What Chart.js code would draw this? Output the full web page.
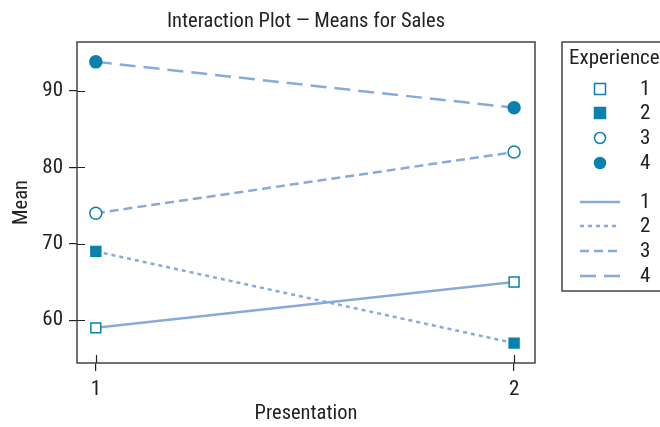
<!DOCTYPE html>
<html>
<head>
<meta charset="utf-8">
<script src="https://cdn.jsdelivr.net/npm/chart.js@4"></script>
<style>
  html, body { margin: 0; padding: 0; background: #fff; }
  #wrap { width: 660px; height: 427px; }
</style>
</head>
<body>
<div id="wrap"><canvas id="chart" width="660" height="427"></canvas></div>
<script>
// data
const presentation = [1, 2];
const experience = ['1', '2', '3', '4'];
const means1 = [59, 65];
const means2 = [69, 57];
const means3 = [74, 82];
const means4 = [93.8, 87.8];
const yTicks = [60, 70, 80, 90];

const FONT = "'Liberation Sans Narrow', 'Roboto Condensed', 'DejaVu Sans Condensed', 'Liberation Sans', sans-serif";
const LINE_COLOR = '#88a9dc';
const MARK_COLOR = '#0a80ae';
const TEXT_COLOR = '#222';
const FRAME_COLOR = '#444';

const styles = [
    { dash: [], pointStyle: 'rect', fill: '#fff' },
    { dash: [4, 4], pointStyle: 'rect', fill: MARK_COLOR },
    { dash: [9, 5], pointStyle: 'circle', fill: '#fff' },
    { dash: [16, 8], pointStyle: 'circle', fill: MARK_COLOR },
];
const allMeans = [means1, means2, means3, means4];

function makeDataset(i) {
    const s = styles[i];
    return {
        label: experience[i],
        data: presentation.map((p, k) => ({ x: p, y: allMeans[i][k] })),
        borderColor: LINE_COLOR,
        borderWidth: 2.5,
        borderDash: s.dash,
        pointStyle: s.pointStyle,
        pointRadius: s.pointStyle === 'rect' ? 7 : 6,
        pointBorderWidth: 1.5,
        pointBorderColor: MARK_COLOR,
        pointBackgroundColor: s.fill,
        tension: 0,
        fill: false,
    };
}

// frame, inner tick halves, title, legend
const decorations = {
    id: 'decorations',
    afterDraw(chart) {
        const ctx = chart.ctx;
        const a = chart.chartArea;
        const xs = chart.scales.x;
        const ys = chart.scales.y;
        ctx.save();
        ctx.strokeStyle = FRAME_COLOR;
        ctx.lineWidth = 1.5;
        ctx.strokeRect(a.left, a.top, a.right - a.left, a.bottom - a.top);

        ctx.strokeStyle = '#222';
        ctx.lineWidth = 1.2;
        ctx.beginPath();
        presentation.forEach(p => {
            const px = Math.round(xs.getPixelForValue(p)) + 0.5;
            ctx.moveTo(px, a.bottom);
            ctx.lineTo(px, a.bottom - 8);
        });
        yTicks.forEach(v => {
            const py = Math.round(ys.getPixelForValue(v)) + 0.5;
            ctx.moveTo(a.left, py);
            ctx.lineTo(a.left + 8, py);
        });
        ctx.stroke();

        // title
        ctx.fillStyle = TEXT_COLOR;
        ctx.font = '20.5px ' + FONT;
        ctx.textAlign = 'center';
        ctx.textBaseline = 'alphabetic';
        ctx.fillText('Interaction Plot \u2014 Means for Sales', (a.left + a.right) / 2, 27);

        // legend box
        const lx = 562, ly = 42;
        ctx.strokeStyle = FRAME_COLOR;
        ctx.lineWidth = 1.5;
        ctx.strokeRect(lx, ly, 130, 249);
        ctx.textAlign = 'left';
        ctx.textBaseline = 'middle';
        ctx.font = '21px ' + FONT;
        ctx.fillText('Experience', 569, 59);

        const markRows = [89, 113, 138, 163];
        const lineRows = [202, 226, 251, 276];
        chart.data.datasets.forEach((ds, i) => {
            const my = markRows[i];
            ctx.lineWidth = 1.5;
            ctx.strokeStyle = MARK_COLOR;
            ctx.fillStyle = ds.pointBackgroundColor;
            ctx.beginPath();
            if (ds.pointStyle === 'rect') {
                ctx.rect(600 - 5.5, my - 5.5, 11, 11);
            } else {
                ctx.arc(600, my, 5.5, 0, Math.PI * 2);
            }
            ctx.fill();
            ctx.stroke();
            ctx.fillStyle = TEXT_COLOR;
            ctx.fillText(ds.label, 640, my + 1);

            const ry = lineRows[i];
            ctx.strokeStyle = LINE_COLOR;
            ctx.lineWidth = 2.5;
            ctx.setLineDash(ds.borderDash);
            ctx.beginPath();
            ctx.moveTo(580, ry);
            ctx.lineTo(620, ry);
            ctx.stroke();
            ctx.setLineDash([]);
            ctx.fillText(ds.label, 640, ry + 1);
        });
        ctx.restore();
    }
};

new Chart(document.getElementById('chart'), {
    type: 'line',
    data: { datasets: [0, 1, 2, 3].map(makeDataset) },
    options: {
        animation: false,
        responsive: false,
        devicePixelRatio: 1,
        layout: { padding: { top: 42, right: 125, left: 0, bottom: 0 } },
        plugins: {
            legend: { display: false },
            title: { display: false },
            tooltip: { enabled: false },
        },
        scales: {
            x: {
                type: 'linear',
                min: 0.955,
                max: 2.05,
                afterFit(scale) { scale.height = 64; },
                afterBuildTicks(scale) { scale.ticks = presentation.map(v => ({ value: v })); },
                grid: { display: true, drawOnChartArea: false, drawTicks: true, tickLength: 8, color: '#222', lineWidth: 1.2 },
                border: { display: false },
                ticks: { color: TEXT_COLOR, font: { family: FONT, size: 21 }, padding: 6, maxRotation: 0 },
                title: { display: true, text: 'Presentation', color: TEXT_COLOR, font: { family: FONT, size: 20.5 }, padding: { top: 0, bottom: 1 } },
            },
            y: {
                type: 'linear',
                min: 54.4,
                max: 96.4,
                afterFit(scale) { scale.width = 77; },
                afterBuildTicks(scale) { scale.ticks = yTicks.map(v => ({ value: v })); },
                grid: { display: true, drawOnChartArea: false, drawTicks: true, tickLength: 8, color: '#222', lineWidth: 1.2 },
                border: { display: false },
                ticks: { color: TEXT_COLOR, font: { family: FONT, size: 21 }, padding: 6 },
                title: { display: true, text: 'Mean', color: TEXT_COLOR, font: { family: FONT, size: 20.5 }, padding: { top: 10, bottom: 0 } },
            },
        },
    },
    plugins: [decorations],
});
</script>
</body>
</html>
